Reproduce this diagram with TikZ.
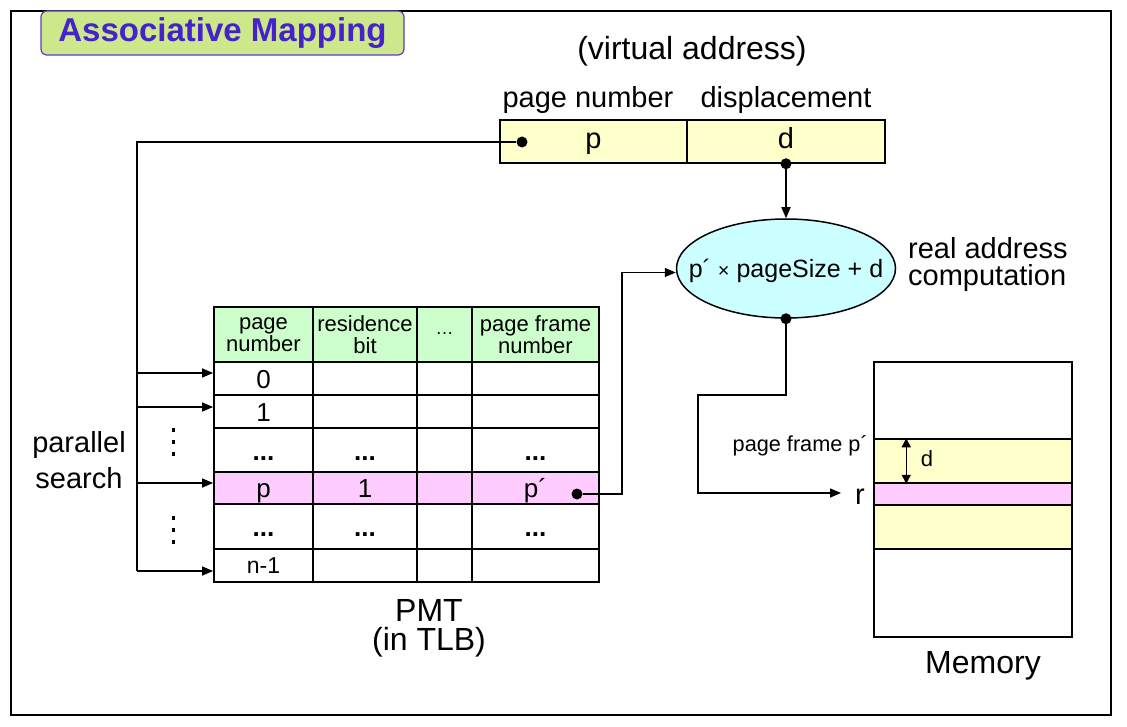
\documentclass[tikz,border=0pt]{standalone}
\usepackage{fontspec}
\setmainfont{Liberation Sans}
\usetikzlibrary{shapes.geometric,arrows.meta}
\definecolor{titlefill}{RGB}{204,232,138}
\definecolor{titletext}{RGB}{68,34,204}
\definecolor{titleborder}{RGB}{90,60,200}
\definecolor{yel}{RGB}{255,255,204}
\definecolor{pnk}{RGB}{255,204,255}
\definecolor{grn}{RGB}{204,255,204}
\definecolor{cyn}{RGB}{204,255,255}
\newcommand\fs[1]{\fontsize{#1}{#1}\selectfont}
\newcommand\fsl[2]{\fontsize{#1}{#2}\selectfont}
\newcommand\tabrow[8]{%
  \node[cell,#4,minimum width=99pt,minimum height=#3pt] (#1a) at (263.5,#2) {#5};
  \node[cell,#4,minimum width=104pt,minimum height=#3pt] (#1b) at (365,#2) {#6};
  \node[cell,#4,minimum width=55pt,minimum height=#3pt] (#1c) at (444.5,#2) {#7};
  \node[cell,#4,minimum width=127pt,minimum height=#3pt] (#1d) at (535.5,#2) {#8};}
\begin{document}
\begin{tikzpicture}[x=1pt,y=-1pt,
  line/.style={line width=1.5pt},
  arr/.style={line width=1.5pt,-{Triangle[length=11pt,width=9pt]}},
  cell/.style={draw,line width=1.8pt,inner sep=0pt,font=\fs{22},align=center},
  val/.style={font=\fs{26},text height=19pt,text depth=0pt},
  blk/.style={circle,fill,inner sep=0pt,minimum size=11pt},
  lbl/.style={inner sep=0pt,font=\fs{29}},
  big/.style={inner sep=0pt,font=\fs{32}},
  mem/.style={draw,line width=1.5pt,minimum width=198pt,inner sep=0pt}]
\useasboundingbox (0,0) rectangle (1127,727);
\draw[line width=1.2pt] (11,11) rectangle (1111,715);
% title
\node[draw=titleborder,fill=titlefill,line width=1.2pt,rounded corners=6pt,
  minimum width=363pt,minimum height=44pt,inner sep=0pt,
  text=titletext,font=\fs{33}\bfseries] (title) at (222.5,33) {Associative Mapping};
% virtual address
\node[big] (va) at (692,51) {(virtual address)};
\node[lbl] (pnl) at (588,100.5) {page number};
\node[lbl] (dpl) at (786,100.5) {displacement};
\node[draw,line width=1.5pt,fill=yel,minimum width=187pt,minimum height=43pt,inner sep=0pt,font=\fs{29},text height=21pt,text depth=6pt] (vp) at (593.5,141.5) {p};
\node[draw,line width=1.5pt,fill=yel,minimum width=198pt,minimum height=43pt,inner sep=0pt,font=\fs{29},text height=21pt,text depth=6pt] (vd) at (786,141.5) {d};
\node[blk] (pdot) at (522,142) {};
\node[blk] (ddot) at (vd.south) {};
% ellipse
\node[ellipse,draw,fill=cyn,line width=1.5pt,minimum width=219pt,minimum height=99pt,inner sep=0pt] (ell) at (786,268.5) {};
\node[inner sep=0pt,font=\fs{25}] (ellt) at ([yshift=-2pt]ell.center) {p´ {\fs{20}×} pageSize + d};
\node[inner sep=0pt,align=left,font={\fsl{29}{27}},anchor=west] (rac) at (908,265) {real address\\computation};
\draw[arr] (ddot) -- (ell.north);
% table
\tabrow{h}{334.5}{55}{fill=grn}{\fsl{22}{21}page\\number}{\fsl{22}{21}residence\\bit}{\raisebox{2pt}{\fs{18}…}}{\fsl{22}{21}page frame\\number}
\tabrow{r0}{378.5}{33}{fill=white,val}{0}{}{}{}
\tabrow{r1}{411.5}{33}{fill=white,val}{1}{}{}{}
\tabrow{r2}{450}{44}{fill=white,val,text height=20pt}{\bfseries...}{\bfseries...}{}{\bfseries...}
\tabrow{r3}{488}{32}{fill=pnk,val}{p}{1}{}{p´}
\tabrow{r4}{526.5}{45}{fill=white,val,text height=20pt}{\bfseries...}{\bfseries...}{}{\bfseries...}
\tabrow{r5}{565.5}{33}{fill=white,val,font=\fs{23},text height=16pt}{n-1}{}{}{}
\node[big] (pmt) at (429,610) {PMT};
\node[big] (tlb) at (429,642) {(in TLB)};
% parallel search
\node[inner sep=0pt,align=center,font={\fsl{29}{36}}] (ps) at (79,460) {parallel\\search};
\coordinate (tr) at (137,142);
\coordinate (tb) at (137,571);
\draw[line] (pdot) -- (tr) -- (tb);
\draw[arr] (tb) -- ([yshift=-5.5pt]r5a.west);
\draw[arr] (tr |- 0,373) -- ([yshift=5.5pt]r0a.west);
\draw[arr] (tr |- 0,407) -- ([yshift=4.5pt]r1a.west);
\draw[arr] (tr |- 0,483) -- ([yshift=5pt]r3a.west);
\foreach \y in {430,442,454,518,530,542} \fill (171.5,\y-1.8) rectangle (175,\y+1.8);
% p' to ellipse
\node[blk] (pp) at (577,494) {};
\draw[arr] (pp) -| ([xshift=-54pt,yshift=-4pt]ell.west) -- ([yshift=-4pt]ell.west);
% memory
\node[mem,fill=white,minimum height=77pt] (m0) at (973,400.5) {};
\node[mem,fill=yel,minimum height=44pt] (m1) at (973,461) {};
\node[mem,fill=pnk,minimum height=22pt] (m2) at (973,494) {};
\node[mem,fill=yel,minimum height=44pt] (m3) at (973,527) {};
\node[mem,fill=white,minimum height=88pt] (m4) at (973,593) {};
\draw[line,{Triangle[length=9pt,width=9pt]}-{Triangle[length=9pt,width=9pt]}] ([xshift=33pt]m1.north west) -- ([xshift=33pt]m1.south west);
\node[inner sep=0pt,font=\fs{22}] (dm) at (927,459) {d};
\node[inner sep=0pt,font=\fs{21.7},anchor=east] (pfp) at (868,446) {page frame p´};
\node[inner sep=0pt,font=\fs{29}] (r) at (860,497) {r};
\node[big] (memlbl) at (983,666) {Memory};
\node[blk] (edot) at (ell.south) {};
\draw[arr] (edot) -- (786,395) -- (698,395) -- (698,493) -- (841,493);
\end{tikzpicture}
\end{document}
